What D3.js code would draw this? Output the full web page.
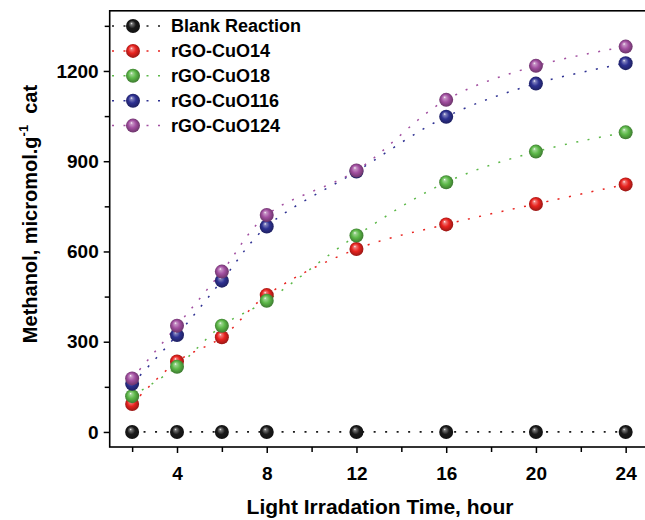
<!DOCTYPE html>
<html>
<head>
<meta charset="utf-8">
<script src="https://cdn.jsdelivr.net/npm/d3@7"></script>
<style>
  body { margin: 0; background: #fff; }
  svg { display: block; font-family: "Liberation Sans", Arial, sans-serif; font-weight: bold; }
</style>
</head>
<body>
<svg width="645" height="520"></svg>
<script>
const hours = [2, 4, 6, 8, 12, 16, 20, 24];
const blank = [0, 0, 0, 0, 0, 0, 0, 0];
const cuo14 = [93, 234, 315, 455, 608, 690, 758, 823];
const cuo18 = [119, 217, 353, 436, 653, 830, 932, 996];
const cuo116 = [160, 322, 503, 683, 866, 1048, 1158, 1226];
const cuo124 = [178, 353, 533, 721, 869, 1104, 1217, 1281];
const seriesNames = ["Blank Reaction", "rGO-CuO14", "rGO-CuO18", "rGO-CuO116", "rGO-CuO124"];
const colors = ["#1a1a1a", "#e8231f", "#5cb848", "#2e3192", "#a24fa0"];
const xMajor = [4, 8, 12, 16, 20, 24];
const xMinor = [2, 6, 10, 14, 18, 22];
const yMajor = [0, 300, 600, 900, 1200];
const yMinor = [150, 450, 750, 1050, 1350];

const allSeries = [blank, cuo14, cuo18, cuo116, cuo124];

var svg = d3.select("svg");

var x = d3.scaleLinear().domain([1, 25]).range([109.7, 648.1]);
var y = d3.scaleLinear().domain([-50, 1400]).range([447, 10.8]);

// sphere-like gradients
var defs = svg.append("defs");
colors.forEach(function (c, i) {
    var g = defs.append("radialGradient")
        .attr("id", "ball" + i)
        .attr("cx", "0.5").attr("cy", "0.5").attr("r", "0.55")
        .attr("fx", "0.38").attr("fy", "0.3");
    var base = d3.color(c);
    g.append("stop").attr("offset", "0").attr("stop-color", "#ffffff");
    g.append("stop").attr("offset", "0.15").attr("stop-color", d3.interpolateRgb(c, "#fff")(0.4));
    g.append("stop").attr("offset", "0.5").attr("stop-color", c);
    g.append("stop").attr("offset", "1").attr("stop-color", base.darker(1.4));
});

// frame
svg.append("rect")
    .attr("x", x(1)).attr("y", y(1400))
    .attr("width", x(25) - x(1)).attr("height", y(-50) - y(1400))
    .attr("fill", "none").attr("stroke", "#000").attr("stroke-width", 1.6);

// y axis
var yAxis = svg.append("g")
    .attr("transform", "translate(" + x(1) + ",0)")
    .call(d3.axisLeft(y).tickValues(yMajor).tickSize(6).tickPadding(5).tickFormat(d3.format("d")));
yAxis.select(".domain").remove();
yAxis.selectAll("text").attr("font-size", 19).attr("font-family", "Liberation Sans, Arial, sans-serif").attr("font-weight", "bold");
yAxis.selectAll("line").attr("stroke-width", 1.5);
svg.append("g")
    .attr("transform", "translate(" + x(1) + ",0)")
    .call(d3.axisLeft(y).tickValues(yMinor).tickSize(5).tickFormat(""))
    .call(function (g) { g.select(".domain").remove(); g.selectAll("line").attr("stroke-width", 1.5); });

// x axis
var xAxis = svg.append("g")
    .attr("transform", "translate(0," + y(-50) + ")")
    .call(d3.axisBottom(x).tickValues(xMajor).tickSize(6).tickPadding(14));
xAxis.select(".domain").remove();
xAxis.selectAll("text").attr("font-size", 19).attr("font-family", "Liberation Sans, Arial, sans-serif").attr("font-weight", "bold");
xAxis.selectAll("line").attr("stroke-width", 1.5);
svg.append("g")
    .attr("transform", "translate(0," + y(-50) + ")")
    .call(d3.axisBottom(x).tickValues(xMinor).tickSize(5).tickFormat(""))
    .call(function (g) { g.select(".domain").remove(); g.selectAll("line").attr("stroke-width", 1.5); });

// axis titles
svg.append("text")
    .attr("x", 380).attr("y", 514)
    .attr("text-anchor", "middle").attr("font-size", 21)
    .text("Light Irradation Time, hour");

var yt = svg.append("text")
    .attr("transform", "translate(37,214) rotate(-90)")
    .attr("text-anchor", "middle").attr("font-size", 20);
yt.append("tspan").text("Methanol, micromol.g");
yt.append("tspan").attr("font-size", 13).attr("dy", -9).text("-1");
yt.append("tspan").attr("dy", 9).text("\u00a0 cat");

// lines
var line = d3.line()
    .x(function (d) { return x(d[0]); })
    .y(function (d) { return y(d[1]); })
    .curve(d3.curveCatmullRom.alpha(0.5));

allSeries.forEach(function (vals, i) {
    var pts = hours.map(function (h, j) { return [h, vals[j]]; });
    svg.append("path")
        .datum(pts)
        .attr("d", line)
        .attr("fill", "none")
        .attr("stroke", colors[i])
        .attr("stroke-width", i === 0 ? 1.8 : 1.5)
        .attr("stroke-dasharray", "2,9.5");
});

allSeries.forEach(function (vals, i) {
    svg.append("g").selectAll("circle")
        .data(hours.map(function (h, j) { return [h, vals[j]]; }))
        .enter().append("circle")
        .attr("cx", function (d) { return x(d[0]); })
        .attr("cy", function (d) { return y(d[1]); })
        .attr("r", 7)
        .attr("fill", "url(#ball" + i + ")");
});

// legend
var legend = svg.append("g");
seriesNames.forEach(function (name, i) {
    var ly = 26 + i * 24.9;
    legend.append("line")
        .attr("x1", 112).attr("x2", 161).attr("y1", ly).attr("y2", ly)
        .attr("stroke", colors[i]).attr("stroke-width", 1.5)
        .attr("stroke-dasharray", "2,9.5");
    legend.append("circle")
        .attr("cx", 133).attr("cy", ly).attr("r", 7)
        .attr("fill", "url(#ball" + i + ")");
    legend.append("text")
        .attr("x", 171).attr("y", ly).attr("dy", "0.35em")
        .attr("font-size", 18)
        .text(name);
});
</script>
</body>
</html>
